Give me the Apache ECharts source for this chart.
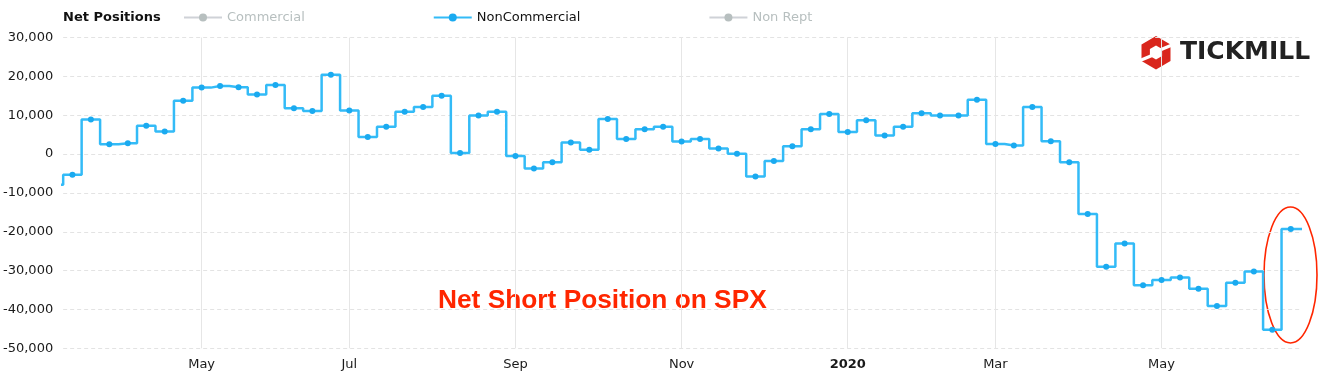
<!DOCTYPE html>
<html><head><meta charset="utf-8">
<script src="https://cdn.jsdelivr.net/npm/echarts@6/dist/echarts.min.js"></script>
<style>html,body{margin:0;padding:0;background:#fff}#c{width:1330px;height:384px}</style>
</head><body><div id="c"></div>
<script>
// Weekly COT report dates (first and last are just outside the visible window)
const weeks = [
  '2019-03-12','2019-03-19','2019-03-26','2019-04-02','2019-04-09','2019-04-16','2019-04-23','2019-04-30',
  '2019-05-07','2019-05-14','2019-05-21','2019-05-28','2019-06-04','2019-06-11','2019-06-18','2019-06-25',
  '2019-07-02','2019-07-09','2019-07-16','2019-07-23','2019-07-30','2019-08-06','2019-08-13','2019-08-20','2019-08-27',
  '2019-09-03','2019-09-10','2019-09-17','2019-09-24','2019-10-01','2019-10-08','2019-10-15','2019-10-22','2019-10-29',
  '2019-11-05','2019-11-12','2019-11-19','2019-11-26','2019-12-03','2019-12-10','2019-12-17','2019-12-24','2019-12-31',
  '2020-01-07','2020-01-14','2020-01-21','2020-01-28','2020-02-04','2020-02-11','2020-02-18','2020-02-25',
  '2020-03-03','2020-03-10','2020-03-17','2020-03-24','2020-03-31','2020-04-07','2020-04-14','2020-04-21','2020-04-28',
  '2020-05-05','2020-05-12','2020-05-19','2020-05-26','2020-06-02','2020-06-09','2020-06-16','2020-06-23','2020-06-30'
];
const nonCommercial = [
  -7900, -5300, 8900, 2500, 2800, 7300, 5800, 13700,
  17100, 17500, 17200, 15300, 17800, 11800, 11100, 20400,
  11200, 4400, 7000, 10900, 12100, 15000, 300, 9900, 10900,
  -500, -3700, -2100, 3000, 1100, 9000, 3900, 6400, 7000,
  3200, 3900, 1400, 100, -5800, -1800, 2000, 6400, 10300,
  5700, 8700, 4800, 7000, 10500, 9900, 9900, 14000,
  2600, 2200, 12100, 3300, -2100, -15400, -29000, -23000, -33800,
  -32400, -31800, -34700, -39100, -33100, -30200, -45200, -19300, -19300
];
const commercial = [];
const nonRept = [];
const monthNames = ['Jan','Feb','Mar','Apr','May','Jun','Jul','Aug','Sep','Oct','Nov','Dec'];
const yMin = -50000, yMax = 30000, yStep = 10000;

// month tick positions: first report of every odd month
const labelIdx = [];
weeks.forEach((d, i) => {
  if (i === 0) return;
  const m = +d.slice(5, 7), pm = +weeks[i - 1].slice(5, 7);
  if (m !== pm && m % 2 === 1) labelIdx.push(i);
});

const chart = echarts.init(document.getElementById('c'), null, {renderer: 'canvas'});
const FONT = 'DejaVu Sans, Verdana, sans-serif';
chart.setOption({
  animation: false,
  backgroundColor: '#fff',
  title: {
    text: 'Net Positions', left: 63, top: 11, padding: 0,
    textStyle: {fontFamily: FONT, fontSize: 13, fontWeight: 'bold', color: '#111'}
  },
  legend: {
    left: 183, top: 11, padding: 0,
    data: ['Commercial', 'NonCommercial', 'Non Rept'],
    selected: {'Commercial': false, 'NonCommercial': true, 'Non Rept': false},
    itemWidth: 38, itemHeight: 10, itemGap: 128,
    inactiveColor: '#b7bfbf',
    textStyle: {fontFamily: FONT, fontSize: 13, color: '#111'}
  },
  grid: {left: 63, right: 30, top: 37.5, bottom: 35.7, containLabel: false},
  xAxis: {
    type: 'value', min: 0.5, max: weeks.length - 1.5,
    axisLine: {show: false},
    axisTick: {show: false, customValues: labelIdx},
    axisLabel: {
      customValues: labelIdx,
      margin: 10,
      fontFamily: FONT, fontSize: 13, color: '#1a1a1a',
      formatter: v => {
        const d = weeks[Math.round(v)];
        if (!d) return '';
        const m = +d.slice(5, 7);
        return m === 1 ? '{b|' + d.slice(0, 4) + '}' : monthNames[m - 1];
      },
      rich: {b: {fontFamily: FONT, fontSize: 13, fontWeight: 'bold', color: '#1a1a1a'}}
    },
    splitLine: {show: true, lineStyle: {color: '#e6e6e6', width: 1}}
  },
  yAxis: {
    type: 'value', min: yMin, max: yMax, interval: yStep,
    axisLine: {show: false}, axisTick: {show: false},
    axisLabel: {
      margin: 10, fontFamily: FONT, fontSize: 13, color: '#1a1a1a',
      formatter: v => v.toLocaleString('en-US')
    },
    splitLine: {show: true, lineStyle: {color: '#e3e3e3', width: 1, type: [4, 3]}}
  },
  series: [
    {name: 'Commercial', type: 'line', data: commercial, color: '#9aa3a3', symbol: 'circle', symbolSize: 5},
    {
      name: 'NonCommercial', type: 'line', step: 'middle',
      data: nonCommercial.map((v, i) => [i, v]),
      color: '#2bb6f6',
      symbol: 'circle', symbolSize: 6, showAllSymbol: true,
      lineStyle: {width: 2.5, color: '#33bbf7'},
      itemStyle: {color: '#1aaaf0'},
      clip: true
    },
    {name: 'Non Rept', type: 'line', data: nonRept, color: '#9aa3a3', symbol: 'circle', symbolSize: 5}
  ],
  graphic: [
    {
      type: 'text', left: 438, top: 288,
      style: {text: 'Net Short Position on SPX', fill: '#ff2600',
        font: 'bold 26.3px "Liberation Sans", Arial, sans-serif'}
    },
    {
      type: 'ellipse', shape: {cx: 1290.5, cy: 275, rx: 26.5, ry: 68},
      style: {fill: 'none', stroke: '#ff2600', lineWidth: 1.6}
    },
    {
      type: 'polygon',
      shape: {points: [[1156, 36], [1170.5, 44.4], [1170.5, 61.1], [1156, 69.5], [1141.5, 61.1], [1141.5, 44.4]]},
      style: {fill: '#d9261c'}
    },
    {
      type: 'polygon',
      shape: {points: [[1156, 45.5], [1162.1, 49.0], [1162.1, 56.0], [1156, 59.5], [1149.9, 56.0], [1149.9, 49.0]]},
      style: {fill: '#fff'}
    },
    {type: 'line', shape: {x1: 1160, y1: 50, x2: 1172, y2: 45}, style: {stroke: '#fff', lineWidth: 3.2}},
    {type: 'line', shape: {x1: 1152, y1: 55.5, x2: 1140, y2: 60.5}, style: {stroke: '#fff', lineWidth: 3.2}},
    {
      type: 'text', left: 1180, top: 40,
      style: {text: 'TICKMILL', fill: '#222', font: 'bold 25px "DejaVu Sans", Verdana, sans-serif'}
    }
  ]
});
</script>
</body></html>
